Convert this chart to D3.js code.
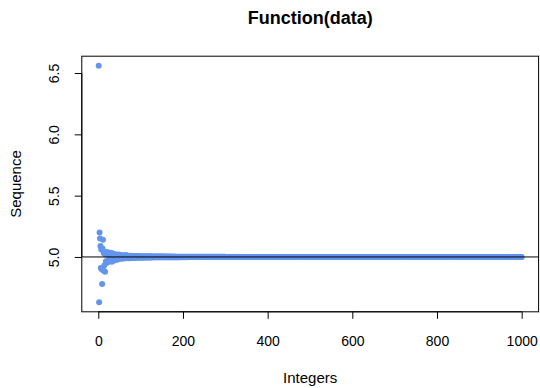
<!DOCTYPE html>
<html>
<head>
<meta charset="utf-8">
<script src="https://cdn.jsdelivr.net/npm/d3@7"></script>
<style>
html,body{margin:0;padding:0;background:#fff;}
svg{display:block;font-family:"Liberation Sans",Arial,Helvetica,sans-serif;}
</style>
</head>
<body>
<svg id="chart" width="540" height="388"></svg>
<script>
// ---- data ----
const chartTitle = "Function(data)";
const xLabel = "Integers";
const yLabel = "Sequence";
const xTicks = [0, 200, 400, 600, 800, 1000];
const yTicks = [5.0, 5.5, 6.0, 6.5];
const refLine = 5;

// values for n = 1..100
const headValues = [
  6.56, 4.63, 5.20, 5.15, 5.09, 4.91, 5.06, 4.90, 4.78, 5.07,
  5.14, 4.89, 5.03, 4.93, 5.04, 4.88, 5.02, 4.965, 5.03, 4.95,
  5.04, 4.97, 5.02, 4.96, 5.03, 4.98, 5.02, 4.97, 5.035, 4.98,
  5.02, 4.96, 5.03, 4.985, 5.02, 4.97, 5.025, 4.98, 5.02, 4.985,
  5.015, 4.975, 5.02, 4.99, 5.015, 4.98, 5.01, 4.985, 5.02, 4.99,
  5.012, 4.99, 5.008, 4.986, 5.012, 4.992, 5.01, 4.988, 5.014, 4.99,
  5.008, 4.99, 5.01, 4.992, 5.016, 4.99, 5.012, 4.994, 5.008, 4.99,
  5.01, 4.992, 5.006, 4.99, 5.008, 4.994, 5.01, 4.992, 5.006, 4.994,
  5.008, 4.992, 5.006, 4.994, 5.008, 4.995, 5.006, 4.993, 5.005, 4.995,
  5.006, 4.994, 5.005, 4.996, 5.007, 4.995, 5.005, 4.996, 5.004, 4.995
];
// values for n = 101..300
const midValues = [
  5.005, 4.996, 5.004, 4.995, 5.006, 4.996, 5.004, 4.996, 5.005, 4.996,
  5.004, 4.997, 5.004, 4.996, 5.005, 4.997, 5.004, 4.996, 5.003, 4.997,
  5.006, 4.996, 5.004, 4.997, 5.005, 4.996, 5.003, 4.997, 5.004, 4.997,
  5.003, 4.997, 5.004, 4.997, 5.003, 4.997, 5.004, 4.998, 5.003, 4.997,
  5.003, 4.997, 5.004, 4.998, 5.003, 4.997, 5.003, 4.998, 5.003, 4.997,
  5.003, 4.998, 5.003, 4.997, 5.003, 4.998, 5.002, 4.998, 5.003, 4.998,
  5.003, 4.998, 5.002, 4.998, 5.003, 4.998, 5.002, 4.998, 5.003, 4.998,
  5.002, 4.998, 5.003, 4.998, 5.002, 4.998, 5.002, 4.998, 5.003, 4.998,
  5.002, 4.998, 5.002, 4.998, 5.002, 4.998, 5.002, 4.998, 5.002, 4.998,
  5.002, 4.998, 5.002, 4.999, 5.002, 4.998, 5.002, 4.999, 5.002, 4.998,
  5.002, 4.999, 5.002, 4.998, 5.002, 4.999, 5.002, 4.999, 5.002, 4.998,
  5.002, 4.999, 5.001, 4.999, 5.002, 4.999, 5.001, 4.999, 5.002, 4.999,
  5.001, 4.999, 5.002, 4.999, 5.001, 4.999, 5.001, 4.999, 5.002, 4.999,
  5.001, 4.999, 5.001, 4.999, 5.001, 4.999, 5.001, 4.999, 5.001, 4.999,
  5.001, 4.999, 5.001, 4.999, 5.001, 4.999, 5.001, 4.999, 5.001, 4.999,
  5.001, 4.999, 5.001, 4.999, 5.001, 4.999, 5.001, 4.999, 5.001, 4.999,
  5.001, 4.999, 5.001, 4.999, 5.001, 4.999, 5.001, 4.999, 5.001, 4.999,
  5.001, 4.999, 5.001, 4.999, 5.001, 4.999, 5.001, 4.999, 5.001, 4.999,
  5.001, 4.999, 5.001, 4.999, 5.001, 4.999, 5.001, 4.999, 5.001, 4.999,
  5.001, 4.999, 5.001, 4.999, 5.001, 4.999, 5.001, 4.999, 5.001, 4.999
];
// values for n = 301..1000 (all read as 5.00 at this scale)
const tailValues = [
  5,5,5,5,5,5,5,5,5,5,5,5,5,5,5,5,5,5,5,5,5,5,5,5,5,5,5,5,5,5,5,5,5,5,5,5,5,5,5,5,5,5,5,5,5,5,5,5,5,5,
  5,5,5,5,5,5,5,5,5,5,5,5,5,5,5,5,5,5,5,5,5,5,5,5,5,5,5,5,5,5,5,5,5,5,5,5,5,5,5,5,5,5,5,5,5,5,5,5,5,5,
  5,5,5,5,5,5,5,5,5,5,5,5,5,5,5,5,5,5,5,5,5,5,5,5,5,5,5,5,5,5,5,5,5,5,5,5,5,5,5,5,5,5,5,5,5,5,5,5,5,5,
  5,5,5,5,5,5,5,5,5,5,5,5,5,5,5,5,5,5,5,5,5,5,5,5,5,5,5,5,5,5,5,5,5,5,5,5,5,5,5,5,5,5,5,5,5,5,5,5,5,5,
  5,5,5,5,5,5,5,5,5,5,5,5,5,5,5,5,5,5,5,5,5,5,5,5,5,5,5,5,5,5,5,5,5,5,5,5,5,5,5,5,5,5,5,5,5,5,5,5,5,5,
  5,5,5,5,5,5,5,5,5,5,5,5,5,5,5,5,5,5,5,5,5,5,5,5,5,5,5,5,5,5,5,5,5,5,5,5,5,5,5,5,5,5,5,5,5,5,5,5,5,5,
  5,5,5,5,5,5,5,5,5,5,5,5,5,5,5,5,5,5,5,5,5,5,5,5,5,5,5,5,5,5,5,5,5,5,5,5,5,5,5,5,5,5,5,5,5,5,5,5,5,5,
  5,5,5,5,5,5,5,5,5,5,5,5,5,5,5,5,5,5,5,5,5,5,5,5,5,5,5,5,5,5,5,5,5,5,5,5,5,5,5,5,5,5,5,5,5,5,5,5,5,5,
  5,5,5,5,5,5,5,5,5,5,5,5,5,5,5,5,5,5,5,5,5,5,5,5,5,5,5,5,5,5,5,5,5,5,5,5,5,5,5,5,5,5,5,5,5,5,5,5,5,5,
  5,5,5,5,5,5,5,5,5,5,5,5,5,5,5,5,5,5,5,5,5,5,5,5,5,5,5,5,5,5,5,5,5,5,5,5,5,5,5,5,5,5,5,5,5,5,5,5,5,5,
  5,5,5,5,5,5,5,5,5,5,5,5,5,5,5,5,5,5,5,5,5,5,5,5,5,5,5,5,5,5,5,5,5,5,5,5,5,5,5,5,5,5,5,5,5,5,5,5,5,5,
  5,5,5,5,5,5,5,5,5,5,5,5,5,5,5,5,5,5,5,5,5,5,5,5,5,5,5,5,5,5,5,5,5,5,5,5,5,5,5,5,5,5,5,5,5,5,5,5,5,5,
  5,5,5,5,5,5,5,5,5,5,5,5,5,5,5,5,5,5,5,5,5,5,5,5,5,5,5,5,5,5,5,5,5,5,5,5,5,5,5,5,5,5,5,5,5,5,5,5,5,5,
  5,5,5,5,5,5,5,5,5,5,5,5,5,5,5,5,5,5,5,5,5,5,5,5,5,5,5,5,5,5,5,5,5,5,5,5,5,5,5,5,5,5,5,5,5,5,5,5,5,5
];

const sequenceValues = headValues.concat(midValues, tailValues);
const data = sequenceValues.map((v, i) => ({ n: i + 1, v: v }));

// ---- layout ----
const svg = d3.select("#chart");
const plotLeft = 81.8, plotRight = 538.6, plotTop = 56.2, plotBottom = 311.8;
const pointColor = "#6495ED";
const tickFont = 14, labelFont = 15, titleFont = 18;

// R-style 4% padded domains
const xMin = d3.min(data, d => d.n), xMax = d3.max(data, d => d.n);
const yMin = d3.min(data, d => d.v), yMax = d3.max(data, d => d.v);
const xPad = (xMax - xMin) * 0.04, yPad = (yMax - yMin) * 0.04;

const x = d3.scaleLinear().domain([xMin - xPad, xMax + xPad]).range([plotLeft, plotRight]);
const y = d3.scaleLinear().domain([yMin - yPad, yMax + yPad]).range([plotBottom, plotTop]);

// clip
svg.append("defs").append("clipPath").attr("id", "clip")
  .append("rect").attr("x", plotLeft).attr("y", plotTop)
  .attr("width", plotRight - plotLeft).attr("height", plotBottom - plotTop);

// points
svg.append("g").attr("clip-path", "url(#clip)")
  .selectAll("circle").data(data).enter().append("circle")
  .attr("cx", d => x(d.n)).attr("cy", d => y(d.v))
  .attr("r", 3).attr("fill", pointColor);

// reference line
svg.append("line")
  .attr("x1", plotLeft).attr("x2", plotRight)
  .attr("y1", y(refLine)).attr("y2", y(refLine))
  .attr("stroke", "#000").attr("stroke-width", 1);

// box
svg.append("rect").attr("x", plotLeft).attr("y", plotTop)
  .attr("width", plotRight - plotLeft).attr("height", plotBottom - plotTop)
  .attr("fill", "none").attr("stroke", "#000").attr("stroke-width", 1);

// x axis
const xAxis = d3.axisBottom(x).tickValues(xTicks).tickSize(7).tickFormat(d3.format("d"));
const gx = svg.append("g").attr("transform", `translate(0,${plotBottom})`).call(xAxis);
gx.select(".domain").attr("d", `M${x(xTicks[0])},0H${x(xTicks[xTicks.length-1])}`).attr("stroke", "#000");
gx.selectAll(".tick line").attr("stroke", "#000");
gx.selectAll(".tick text").attr("y", 346 - plotBottom).attr("dy", null)
  .attr("font-size", tickFont).attr("fill", "#000")
  .attr("font-family", "'Liberation Sans',Arial,sans-serif");

// y axis
const yAxis = d3.axisLeft(y).tickValues(yTicks).tickSize(7).tickFormat(d3.format(".1f"));
const gy = svg.append("g").attr("transform", `translate(${plotLeft},0)`).call(yAxis);
gy.select(".domain").attr("d", `M0,${y(yTicks[0])}V${y(yTicks[yTicks.length-1])}`).attr("stroke", "#000");
gy.selectAll(".tick line").attr("stroke", "#000");
gy.selectAll(".tick text")
  .attr("x", null).attr("dy", null)
  .attr("transform", `translate(${59 - plotLeft},0) rotate(-90)`)
  .attr("text-anchor", "middle")
  .attr("font-size", tickFont).attr("fill", "#000")
  .attr("font-family", "'Liberation Sans',Arial,sans-serif");

// title
svg.append("text").attr("x", (plotLeft + plotRight) / 2).attr("y", 23.5)
  .attr("text-anchor", "middle").attr("font-weight", "bold").attr("font-size", titleFont)
  .text(chartTitle);

// axis labels
svg.append("text").attr("x", (plotLeft + plotRight) / 2).attr("y", 382.5)
  .attr("text-anchor", "middle").attr("font-size", labelFont).text(xLabel);
svg.append("text").attr("transform", `translate(20.5,${(plotTop + plotBottom) / 2}) rotate(-90)`)
  .attr("text-anchor", "middle").attr("font-size", labelFont).text(yLabel);
</script>
</body>
</html>
